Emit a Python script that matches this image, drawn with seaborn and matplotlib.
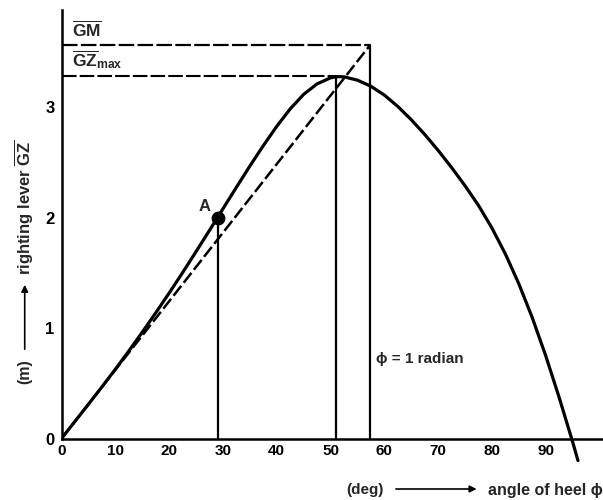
import matplotlib
matplotlib.use("Agg")
import matplotlib.pyplot as plt
import numpy as np
import pandas as pd
import seaborn as sns

# ---- data ----
heel_deg = [0, 2.5, 5, 7.5, 10, 12.5, 15, 17.5, 20, 22.5, 25, 27.5, 30, 32.5, 35, 37.5, 40, 42.5, 45, 47.5,
            50, 51.2, 52.5, 55, 57.5, 60, 62.5, 65, 67.5, 70, 72.5, 75, 77.5, 80, 82.5, 85, 87.5, 90, 92.5, 95, 96]
gz_m = [0, 0.155, 0.31, 0.467, 0.627, 0.792, 0.962, 1.137, 1.317, 1.502, 1.692, 1.885, 2.08, 2.275, 2.467,
        2.652, 2.827, 2.985, 3.117, 3.212, 3.267, 3.278, 3.276, 3.246, 3.191, 3.111, 3.008, 2.888, 2.755,
        2.61, 2.455, 2.29, 2.112, 1.907, 1.672, 1.402, 1.095, 0.75, 0.372, -0.03, -0.20]
gm_value = 3.56
radian_deg = 57.3
gz_max = 3.28
gz_max_deg = 51.0
point_a_deg = 29.0
point_a_gz = 2.0
x_ticks = [0, 10, 20, 30, 40, 50, 60, 70, 80, 90]
y_ticks = [0, 1, 2, 3]

sns.set_theme(style="white")
plt.rcParams['font.family'] = ['Liberation Sans', 'DejaVu Sans']
plt.rcParams['font.weight'] = 'bold'
plt.rcParams['mathtext.fontset'] = 'custom'
plt.rcParams['mathtext.rm'] = 'Liberation Sans:weight=bold'
plt.rcParams['mathtext.bf'] = 'Liberation Sans:weight=bold'
plt.rcParams['mathtext.it'] = 'Liberation Sans:weight=bold'

fig = plt.figure(figsize=(6.03, 5.0), dpi=100)
ax = fig.add_axes([0.102, 0.0744, 0.898, 0.9053])

curve = pd.DataFrame({"heel": heel_deg, "gz": gz_m})
sns.lineplot(data=curve, x="heel", y="gz", ax=ax, color="black", lw=2.3, zorder=4)

gm_line = pd.DataFrame({"heel": [0, radian_deg], "gz": [0, gm_value]})
sns.lineplot(data=gm_line, x="heel", y="gz", ax=ax, color="black", lw=1.8, zorder=3).lines[-1].set_dashes([5, 1.6])

gm_h = pd.DataFrame({"heel": [0, radian_deg], "gz": [gm_value, gm_value]})
sns.lineplot(data=gm_h, x="heel", y="gz", ax=ax, color="black", lw=1.6, zorder=3).lines[-1].set_dashes([7, 1.5])
gz_h = pd.DataFrame({"heel": [0, gz_max_deg], "gz": [gz_max, gz_max]})
sns.lineplot(data=gz_h, x="heel", y="gz", ax=ax, color="black", lw=1.5, zorder=3).lines[-1].set_dashes([7, 1.5])

for xv, yv in [(point_a_deg, point_a_gz), (gz_max_deg, gz_max), (radian_deg, gm_value)]:
    v = pd.DataFrame({"heel": [xv, xv], "gz": [0, yv]})
    sns.lineplot(data=v, x="heel", y="gz", ax=ax, color="black", lw=1.6, zorder=3, estimator=None, sort=False)

pa = pd.DataFrame({"heel": [point_a_deg], "gz": [point_a_gz]})
sns.scatterplot(data=pa, x="heel", y="gz", ax=ax, color="black", s=85, zorder=5, edgecolor="black")

ax.set_xlim(0, 100.65)
ax.set_ylim(-0.22, 3.88)
ax.set_xticks(x_ticks)
ax.set_yticks(y_ticks)
ax.set_xticklabels([str(t) for t in x_ticks], fontsize=12, fontweight='bold')
ax.set_yticklabels([str(t) for t in y_ticks], fontsize=12, fontweight='bold')
ax.tick_params(axis='x', direction='in', length=9, width=1.5, pad=4, colors='black')
ax.tick_params(axis='y', direction='in', length=9, width=1.5, pad=5, colors='black')
ax.set_xlabel("")
ax.set_ylabel("")
for s in ['top', 'right']:
    ax.spines[s].set_visible(False)
ax.spines['bottom'].set_position(('data', 0))
ax.spines['left'].set_bounds(0, 3.88)
for s in ['bottom', 'left']:
    ax.spines[s].set_color('black')
    ax.spines[s].set_linewidth(1.8)

ax.text(2.0, 3.62, r"$\overline{\mathbf{GM}}$", fontsize=12.5, ha='left', va='bottom')
ax.text(2.0, 3.33, r"$\overline{\mathbf{GZ}}_{\mathbf{max}}$", fontsize=12.5, ha='left', va='bottom')
ax.text(point_a_deg - 1.3, point_a_gz + 0.03, "A", fontsize=12, fontweight='bold', ha='right', va='bottom')
ax.text(radian_deg + 1.2, 0.72, "ϕ = 1 radian", fontsize=11, fontweight='bold', ha='left', va='center')

# axis captions
fig.text(0.605, 0.02, "(deg)", fontsize=11, fontweight='bold', ha='center', va='center')
fig.patches.append(matplotlib.patches.FancyArrowPatch((0.652, 0.022), (0.795, 0.022), transform=fig.transFigure,
                   arrowstyle='-|>', mutation_scale=10, lw=1.2, color='black'))
fig.text(0.81, 0.02, "angle of heel ϕ", fontsize=11.5, fontweight='bold', ha='left', va='center')

fig.text(0.041, 0.256, "(m)", fontsize=11.5, fontweight='bold', rotation=90, ha='center', va='center')
fig.patches.append(matplotlib.patches.FancyArrowPatch((0.041, 0.296), (0.041, 0.436), transform=fig.transFigure,
                   arrowstyle='-|>', mutation_scale=10, lw=1.2, color='black'))
fig.text(0.041, 0.45, r"righting lever $\overline{\mathbf{GZ}}$", fontsize=12, fontweight='bold', rotation=90,
         ha='center', va='bottom')

fig.savefig("out.png", dpi=100)
